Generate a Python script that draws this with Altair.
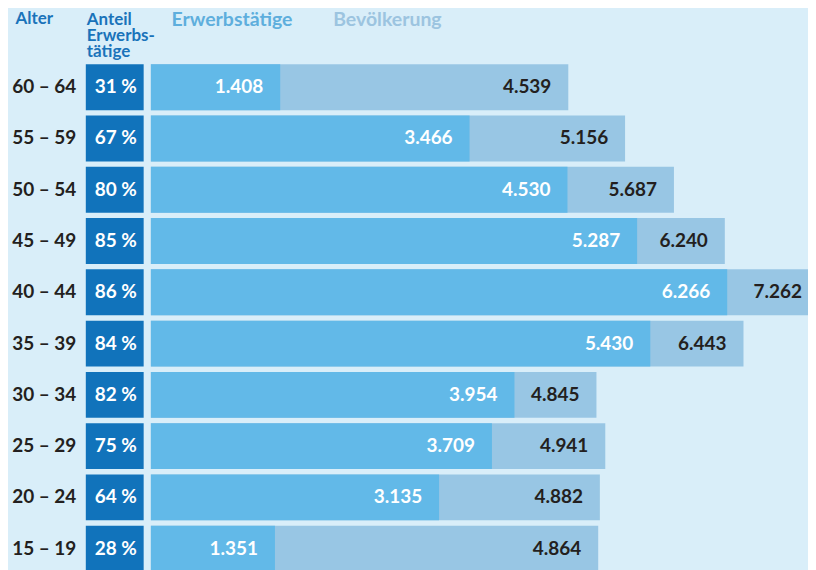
import altair as alt
import pandas as pd

ages = ["60 – 64", "55 – 59", "50 – 54", "45 – 49", "40 – 44",
        "35 – 39", "30 – 34", "25 – 29", "20 – 24", "15 – 19"]
share = [31, 67, 80, 85, 86, 84, 82, 75, 64, 28]
erwerbstaetige = [1408, 3466, 4530, 5287, 6266, 5430, 3954, 3709, 3135, 1351]
bevoelkerung = [4539, 5156, 5687, 6240, 7262, 6443, 4845, 4941, 4882, 4864]
headers = ["Erwerbstätige", "Bevölkerung"]
share_header = "Anteil\nErwerbs-\ntätige"
age_header = "Alter"

def de(v):
    return f"{v:,}".replace(",", ".")

df = pd.DataFrame({
    "age": ages,
    "share": share,
    "share_lbl": [f"{s} %" for s in share],
    "erw": erwerbstaetige,
    "bev": bevoelkerung,
    "erw_lbl": [de(v) for v in erwerbstaetige],
    "bev_lbl": [de(v) for v in bevoelkerung],
})

FONT = "Lato"
BG = "#d9eef9"
C_BOX = "#1173bb"
C_ERW = "#62b9e8"
C_BEV = "#98c6e4"
C_DARK = "#231f20"
C_HEAD = "#1a73ba"
H = 514

yscale = alt.Scale(domain=ages, paddingInner=0.105, paddingOuter=0.0525)

# ---- left panel: age labels (axis) + share boxes
yaxis_left = alt.Axis(
    title=age_header, titleAngle=0, titleAlign="left", titleBaseline="alphabetic",
    titleX=-71, titleY=-38.3, titleFont=FONT, titleFontSize=17, titleFontWeight="bold",
    titleColor=C_HEAD,
    labelPadding=10, domain=False, ticks=False, labelFont=FONT, labelFontSize=19,
    labelFontWeight="bold", labelColor=C_DARK,
)
unit = alt.Scale(domain=[0, 1])

box_base = alt.Chart(df)
boxes = box_base.mark_bar(color=C_BOX).encode(
    y=alt.Y("age:N", scale=yscale, axis=yaxis_left),
    x=alt.XDatum(1, type="quantitative", scale=unit, axis=None),
)
box_text = box_base.mark_text(font=FONT, fontSize=19, fontWeight="bold",
                              color="white", align="center", baseline="middle", dx=1).encode(
    y=alt.Y("age:N", scale=yscale, axis=yaxis_left),
    x=alt.XDatum(0.5, type="quantitative", scale=unit, axis=None),
    text="share_lbl:N",
)
share_hdr = alt.Chart(pd.DataFrame({"h": [share_header]})).mark_text(
    font=FONT, fontSize=17, fontWeight="bold", color=C_HEAD, align="left",
    baseline="top", lineBreak="\n", lineHeight=16).encode(
    x=alt.value(1), y=alt.value(-50), text="h:N")

left = alt.layer(boxes, box_text, share_hdr).properties(width=58, height=H)

# ---- right panel: bars
xscale = alt.Scale(domain=[0, 7144], nice=False, zero=True)
ynone = alt.Y("age:N", scale=yscale, axis=None)
base = alt.Chart(df)
bev_bar = base.mark_bar(color=C_BEV, clip=True).encode(
    y=ynone, x=alt.X("bev:Q", scale=xscale, axis=None))
erw_bar = base.mark_bar(color=C_ERW, clip=True).encode(
    y=ynone, x=alt.X("erw:Q", scale=xscale, axis=None))
erw_txt = base.mark_text(font=FONT, fontSize=19, fontWeight="bold", color="white",
                         align="right", baseline="middle", dx=-17).encode(
    y=ynone, x=alt.X("erw:Q", scale=xscale, axis=None), text="erw_lbl:N")
bev_txt = base.mark_text(font=FONT, fontSize=19, fontWeight="bold", color=C_DARK,
                         align="right", baseline="middle", dx=-17).encode(
    y=ynone, x=alt.X("bev:Q", scale=xscale, axis=None), text="bev_lbl:N")

hdr_df = pd.DataFrame({"h": headers})
hdr1 = alt.Chart(hdr_df).transform_filter(alt.datum.h == headers[0]).mark_text(
    font=FONT, fontSize=19.5, fontWeight="bold", color="#5eaedd", align="left",
    baseline="alphabetic").encode(x=alt.value(21), y=alt.value(-35.6), text="h:N")
hdr2 = alt.Chart(hdr_df).transform_filter(alt.datum.h == headers[1]).mark_text(
    font=FONT, fontSize=19.5, fontWeight="bold", color="#9cc4e0", align="left",
    baseline="alphabetic").encode(x=alt.value(183), y=alt.value(-35.6), text="h:N")

right = alt.layer(bev_bar, erw_bar, erw_txt, bev_txt, hdr1, hdr2).properties(width=659, height=H)

chart = alt.hconcat(left, right, spacing=7, bounds="flush").resolve_scale(y="shared").properties(
    background=BG, padding={"left": 3, "top": 0, "right": 0, "bottom": 0}
).configure_view(stroke=None)

chart.save("out.html", embed_options={"renderer": "svg", "actions": False})
